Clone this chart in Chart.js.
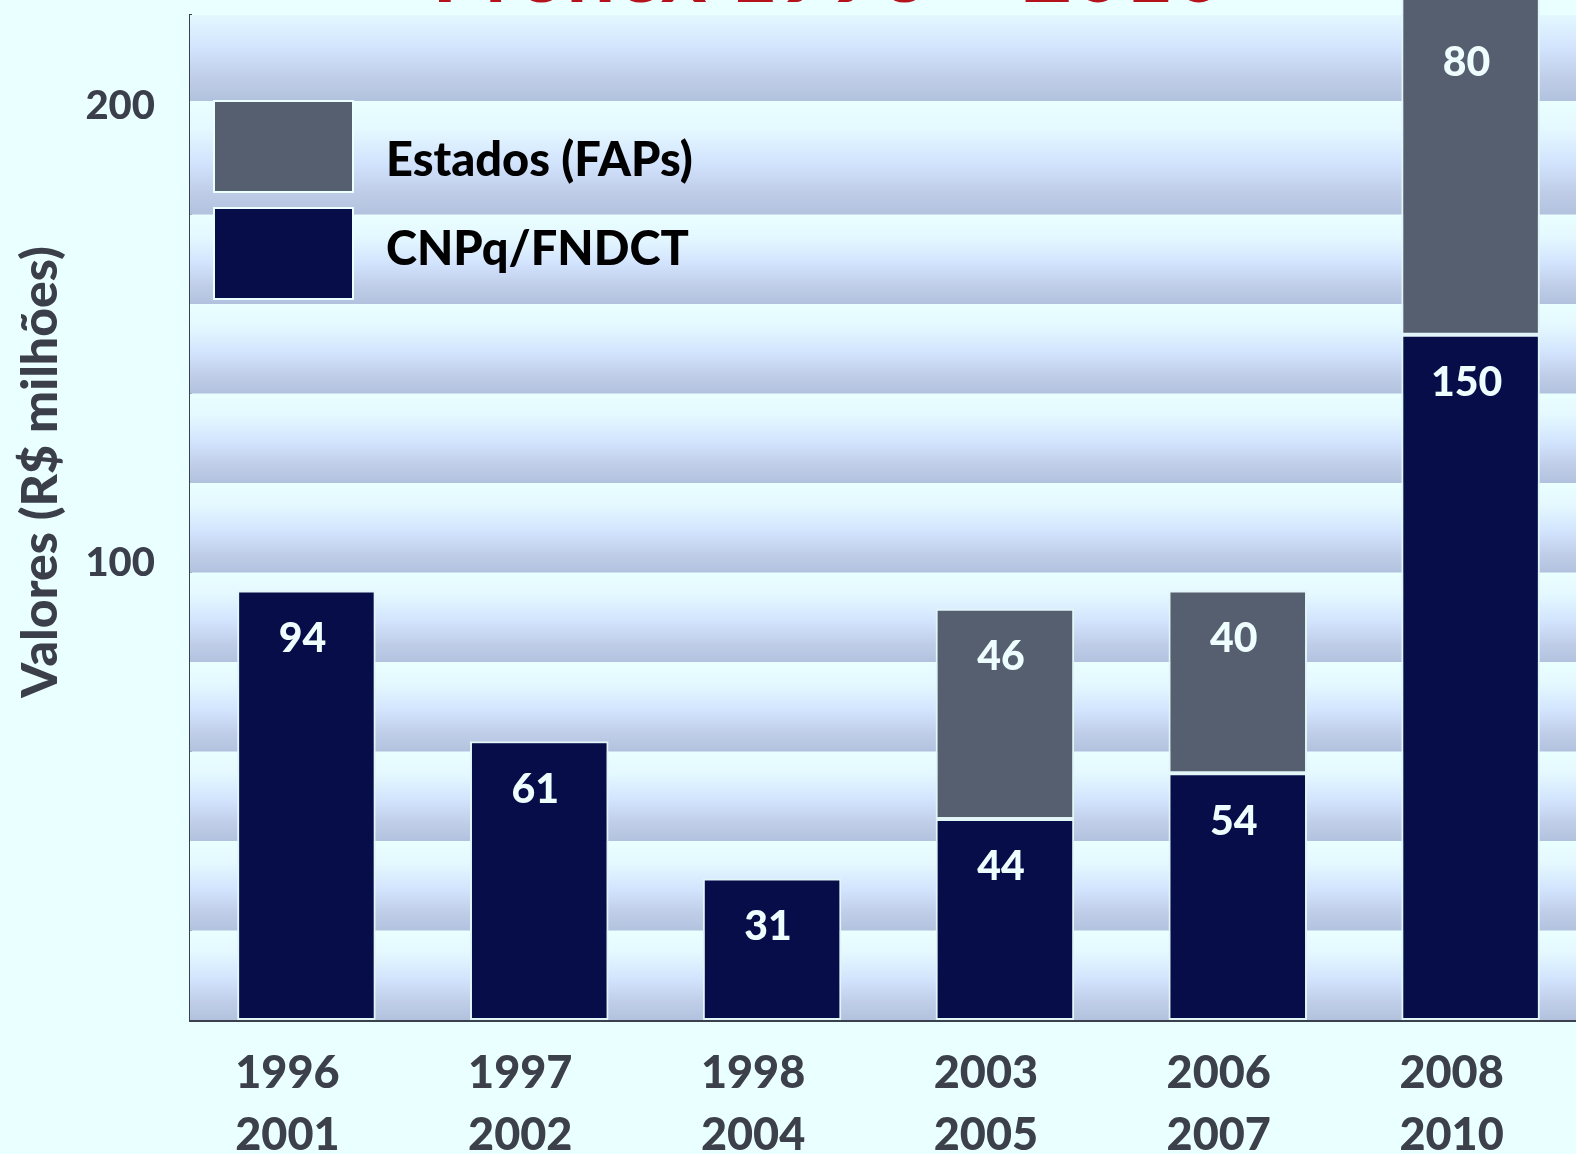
<!DOCTYPE html>
<html>
<head>
<meta charset="utf-8">
<script src="https://cdn.jsdelivr.net/npm/chart.js@4.4.0/dist/chart.umd.min.js"></script>
<style>
  html, body { margin: 0; padding: 0; background: #eaffff; overflow: hidden; }
  #wrap { position: relative; width: 1587px; height: 1200px; }
  #title {
    position: absolute; left: 828px; top: -75px; transform: translateX(-50%);
    font: bold 87px Lato, sans-serif; line-height: 1; color: #b5121b; white-space: nowrap;
  }
  canvas { position: absolute; left: 0; top: 0; }
</style>
</head>
<body>
<div id="wrap">
  <div id="title">Pronex 1996 – 2010</div>
  <canvas id="chart" width="1587" height="1200"></canvas>
</div>
<script>
// periods on the x axis (two lines each)
const periods = [['1996', '2001'], ['1997', '2002'], ['1998', '2004'], ['2003', '2005'], ['2006', '2007'], ['2008', '2010']];
// R$ millions
const cnpq = [94, 61, 31, 44, 54, 150];
const estados = [null, null, null, 46, 40, 80];
const yTicks = [100, 200];
const yTitle = 'Valores (R$ milhões)';

const navy = '#060d48';
const slate = '#565f6f';
const axisCol = '#3b414c';
const heavy = '900';

// striped background of the plot area
const bands = {
  id: 'bands',
  beforeDatasetsDraw(chart) {
    const { ctx, chartArea: a } = chart;
    ctx.save();
    ctx.beginPath();
    ctx.rect(a.left, a.top, a.right - a.left, a.bottom - a.top);
    ctx.clip();
    const edges = [];
    for (let k = 0; k <= 9; k++) edges.push(a.bottom - k * 89.5);
    edges.push(a.top + 86);
    edges.push(a.top - 30);
    for (let i = 0; i < edges.length - 1; i++) {
      const y0 = edges[i + 1], y1 = edges[i];
      const g = ctx.createLinearGradient(0, y0, 0, y1);
      g.addColorStop(0, '#eaffff');
      g.addColorStop(0.25, '#e4f8ff');
      g.addColorStop(0.55, '#d2e3fd');
      g.addColorStop(0.8, '#bfcde8');
      g.addColorStop(1, '#b2c2de');
      ctx.fillStyle = g;
      ctx.fillRect(a.left, y0, a.right - a.left, y1 - y0);
    }
    ctx.restore();
  }
};

// values written inside the bars
const valueLabels = {
  id: 'valueLabels',
  afterDatasetsDraw(chart) {
    const { ctx, chartArea: a } = chart;
    ctx.save();
    ctx.font = heavy + ' 41px Lato';
    ctx.fillStyle = '#eefefe';
    ctx.textAlign = 'center';
    ctx.textBaseline = 'middle';
    chart.data.datasets.forEach((ds, i) => {
      chart.getDatasetMeta(i).data.forEach((bar, j) => {
        const v = ds.data[j];
        if (v == null) return;
        ctx.fillText(String(v), bar.x - 4, Math.max(bar.y, a.top) + 48);
      });
    });
    ctx.restore();
  }
};

// legend boxes drawn inside the plot
const boxLegend = {
  id: 'boxLegend',
  afterDatasetsDraw(chart) {
    const { ctx } = chart;
    const order = [1, 0];
    const textY = [161, 250];
    ctx.save();
    order.forEach((di, i) => {
      const ds = chart.data.datasets[di];
      const y = 101 + i * 107;
      ctx.fillStyle = ds.backgroundColor;
      ctx.fillRect(214, y, 139, 91);
      ctx.strokeStyle = '#eaffff';
      ctx.lineWidth = 2;
      ctx.strokeRect(214, y, 139, 91);
      ctx.fillStyle = '#000';
      ctx.font = heavy + ' 47px Lato';
      ctx.textBaseline = 'middle';
      ctx.textAlign = 'left';
      ctx.fillText(ds.label, 386, textY[i]);
    });
    ctx.restore();
  }
};

// rotated y axis title
const yAxisTitle = {
  id: 'yAxisTitle',
  afterDraw(chart) {
    const { ctx } = chart;
    ctx.save();
    ctx.translate(41, 472);
    ctx.rotate(-Math.PI / 2);
    ctx.font = heavy + ' 50px Lato';
    ctx.fillStyle = '#3a3f4a';
    ctx.textAlign = 'center';
    ctx.textBaseline = 'middle';
    ctx.fillText(yTitle, 0, 0);
    ctx.restore();
  }
};

new Chart(document.getElementById('chart'), {
  type: 'bar',
  data: {
    labels: periods,
    datasets: [
      { label: 'CNPq/FNDCT', data: cnpq, backgroundColor: navy },
      { label: 'Estados (FAPs)', data: estados, backgroundColor: slate, clip: false }
    ]
  },
  options: {
    responsive: false,
    animation: false,
    devicePixelRatio: 1,
    layout: { padding: { top: 15, left: 0, right: 0, bottom: 0 } },
    datasets: {
      bar: {
        borderColor: '#e2f6f8',
        borderWidth: 2,
        borderSkipped: false,
        barPercentage: 0.595,
        categoryPercentage: 1
      }
    },
    plugins: {
      legend: { display: false },
      tooltip: { enabled: false }
    },
    scales: {
      x: {
        stacked: true,
        grid: { display: false, drawTicks: false },
        border: { display: true, color: axisCol, width: 3 },
        ticks: {
          font: { family: 'Lato', size: 45, weight: heavy, lineHeight: 1.38 },
          color: '#3c404a',
          padding: 22,
          labelOffset: -19,
          maxRotation: 0,
          autoSkip: false
        },
        afterFit(s) { s.height = 180; s.paddingLeft = 0; s.paddingRight = 0; }
      },
      y: {
        stacked: true,
        min: 0,
        max: 220,
        grid: { display: false, drawTicks: false },
        border: { display: true, color: axisCol, width: 3 },
        ticks: {
          font: { family: 'Lato', size: 40, weight: heavy },
          color: '#3a3f4b',
          padding: 35
        },
        afterBuildTicks(s) { s.ticks = yTicks.map(v => ({ value: v })); },
        afterFit(s) { s.width = 190; s.paddingTop = 0; s.paddingBottom = 0; }
      }
    }
  },
  plugins: [bands, valueLabels, boxLegend, yAxisTitle]
});
</script>
</body>
</html>
